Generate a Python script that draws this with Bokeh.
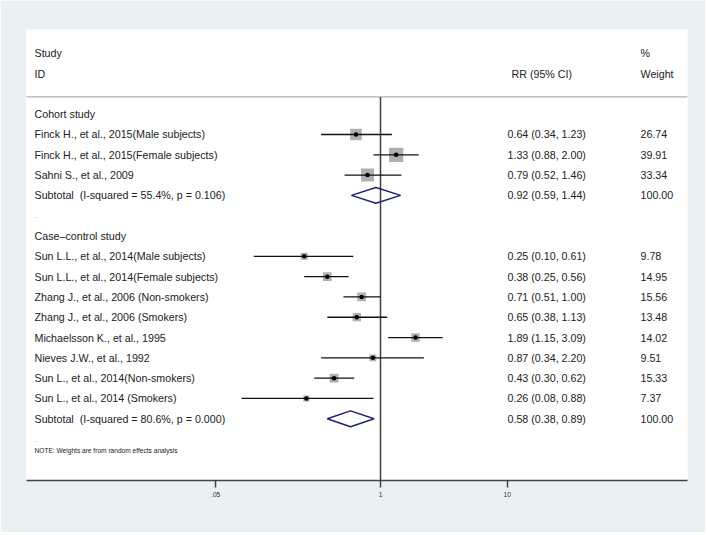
import math
from bokeh.plotting import figure
from bokeh.models import ColumnDataSource, Range1d, FixedTicker, LinearScale
from bokeh.core.properties import value
from bokeh.embed import file_html
from bokeh.resources import INLINE

# ---------------- data ----------------
tick_values = [0.05, 1, 10]
tick_labels = [".05", "1", "10"]

cohort_title = "Cohort study"
cohort_labels = ["Finck H., et al., 2015(Male subjects)",
                 "Finck H., et al., 2015(Female subjects)",
                 "Sahni S., et al., 2009"]
cohort_rr = [0.64, 1.33, 0.79]
cohort_lo = [0.34, 0.88, 0.52]
cohort_hi = [1.23, 2.00, 1.46]
cohort_w = [26.74, 39.91, 33.34]
cohort_sub_label = "Subtotal \u00a0(I-squared = 55.4%, p = 0.106)"
cohort_sub = [0.92, 0.59, 1.44]
cohort_sub_w = 100.00

case_title = "Case\u2013control study"
case_labels = ["Sun L.L., et al., 2014(Male subjects)",
               "Sun L.L., et al., 2014(Female subjects)",
               "Zhang J., et al., 2006 (Non-smokers)",
               "Zhang J., et al., 2006 (Smokers)",
               "Michaelsson K., et al., 1995",
               "Nieves J.W., et al., 1992",
               "Sun L., et al., 2014(Non-smokers)",
               "Sun L., et al., 2014 (Smokers)"]
case_rr = [0.25, 0.38, 0.71, 0.65, 1.89, 0.87, 0.43, 0.26]
case_lo = [0.10, 0.25, 0.51, 0.38, 1.15, 0.34, 0.30, 0.08]
case_hi = [0.61, 0.56, 1.00, 1.13, 3.09, 2.20, 0.62, 0.88]
case_w = [9.78, 14.95, 15.56, 13.48, 14.02, 9.51, 15.33, 7.37]
case_sub_label = "Subtotal \u00a0(I-squared = 80.6%, p = 0.000)"
case_sub = [0.58, 0.38, 0.89]
case_sub_w = 100.00

header_left = ["Study", "ID"]
header_es = "RR (95% CI)"
header_w = ["%", "Weight"]
note = "NOTE: Weights are from random effects analysis"

# ---------------- layout ----------------
W, H = 705, 532
ML, MT = 26, 29
FW, FH = 661, 451
MR, MB = W - ML - FW, H - MT - FH
Y_BOTTOM, Y_TOP = 17.04, -5.17
X_LEFT, X_RIGHT = 10 ** -2.794, 10 ** 2.423
SEP_Y = -1.85
COL_LABEL, COL_ES, COL_ESH, COL_W = 8, 481, 485, 614
FONT = "Liberation Sans"
TXT = "#222222"

p = figure(width=W, height=H, x_axis_type="log",
           x_range=Range1d(X_LEFT, X_RIGHT), y_range=Range1d(Y_BOTTOM, Y_TOP),
           output_backend="svg", toolbar_location=None, y_axis_location=None,
           min_border_left=ML, min_border_right=MR, min_border_top=MT, min_border_bottom=MB)
p.extra_x_ranges = {"px": Range1d(0, FW)}
p.extra_x_scales = {"px": LinearScale()}
p.background_fill_color = "white"
p.border_fill_color = "#e9f1f3"
p.outline_line_color = None
p.xgrid.visible = False
p.ygrid.visible = False

# build rows
lab_y, lab_t = [], []
es_y, es_t, w_y, w_t = [], [], [], []
st_y, st_rr, st_lo, st_hi, st_w = [], [], [], [], []
dot_y = []
dia_xs, dia_ys = [], []

row = -1
for title, labels, rr, lo, hi, w, sl, sub, sw in [
        (cohort_title, cohort_labels, cohort_rr, cohort_lo, cohort_hi, cohort_w,
         cohort_sub_label, cohort_sub, cohort_sub_w),
        (case_title, case_labels, case_rr, case_lo, case_hi, case_w,
         case_sub_label, case_sub, case_sub_w)]:
    lab_y.append(row); lab_t.append(title)
    row += 1
    for i in range(len(labels)):
        lab_y.append(row); lab_t.append(labels[i])
        es_y.append(row); es_t.append(f"{rr[i]:.2f} ({lo[i]:.2f}, {hi[i]:.2f})")
        w_y.append(row); w_t.append(f"{w[i]:.2f}")
        st_y.append(row); st_rr.append(rr[i]); st_lo.append(lo[i]); st_hi.append(hi[i]); st_w.append(w[i])
        row += 1
    lab_y.append(row); lab_t.append(sl)
    es_y.append(row); es_t.append(f"{sub[0]:.2f} ({sub[1]:.2f}, {sub[2]:.2f})")
    w_y.append(row); w_t.append(f"{sw:.2f}")
    dia_xs.append([sub[1], sub[0], sub[2], sub[0]])
    dia_ys.append([row, row - 0.39, row, row + 0.39])
    row += 1
    dot_y.append(row)
    row += 1

def txt(xs, ys, ts, size=value("10.7px"), color=TXT, align="left"):
    src = ColumnDataSource(dict(x=xs, y=ys, t=ts))
    p.text(x="x", y="y", text="t", source=src, x_range_name="px",
           text_font=value(FONT), text_font_size=size, text_color=color,
           text_baseline="middle", text_align=align)

# header
txt([COL_LABEL] * 2, [-4, -3], header_left)
txt([COL_ESH], [-3], [header_es])
txt([COL_W] * 2, [-4, -3], header_w)
# separator
p.segment(x0=[0], x1=[FW], y0=[SEP_Y], y1=[SEP_Y], x_range_name="px",
          line_color="#9a9a9a", line_width=1)
# null line
p.segment(x0=[1], x1=[1], y0=[SEP_Y], y1=[Y_BOTTOM], line_color="#3f3f3f", line_width=1.5)

# study rows
src = ColumnDataSource(dict(y=st_y, rr=st_rr, lo=st_lo, hi=st_hi,
                            s=[2.25 * math.sqrt(v) for v in st_w]))
p.scatter(x="rr", y="y", size="s", marker="square", source=src,
          fill_color="#b0b0b0", line_color=None)
p.segment(x0="lo", x1="hi", y0="y", y1="y", source=src, line_color="#111111", line_width=1.3)
p.scatter(x="rr", y="y", size=4.5, marker="circle", source=src,
          fill_color="#000000", line_color=None)

# diamonds
p.patches(xs=dia_xs, ys=dia_ys, fill_color=None, line_color="#1f2470", line_width=1.5)

# texts
txt([COL_LABEL] * len(lab_y), lab_y, lab_t)
txt([COL_ES] * len(es_y), es_y, es_t)
txt([COL_W] * len(w_y), w_y, w_t)
txt([COL_LABEL] * len(dot_y), dot_y, ["."] * len(dot_y), size=value("6.6px"), color="#777777")
txt([COL_LABEL], [15.57], [note], size=value("6.6px"))

# axis
ax = p.xaxis[0]
ax.ticker = FixedTicker(ticks=tick_values, minor_ticks=[])
ax.major_label_overrides = dict(zip(tick_values, tick_labels))
ax.axis_line_color = "#444444"
ax.axis_line_width = 1.5
ax.major_tick_line_color = "#444444"
ax.major_tick_line_width = 1.5
ax.major_tick_out = 7
ax.major_tick_in = 0
ax.minor_tick_out = 0
ax.minor_tick_in = 0
ax.major_label_text_font = FONT
ax.major_label_text_font_size = "6.6px"
ax.major_label_text_color = "#333333"
ax.major_label_standoff = 4

open("out.html", "w").write(file_html(p, INLINE))
